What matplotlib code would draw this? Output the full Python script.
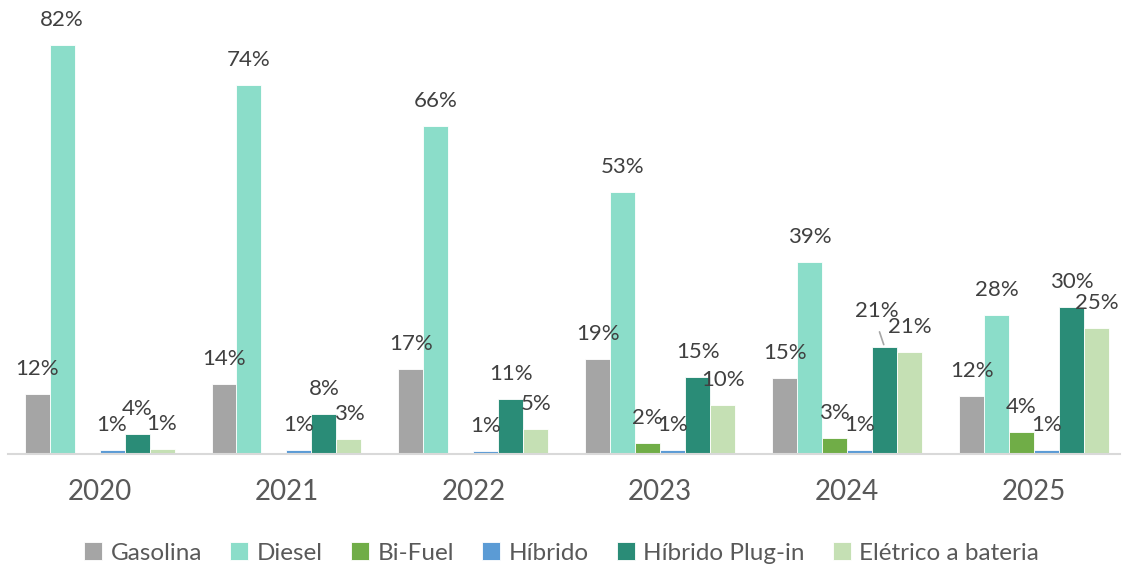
import matplotlib
matplotlib.use("Agg")
import matplotlib.pyplot as plt
import numpy as np

years = ["2020", "2021", "2022", "2023", "2024", "2025"]
series = ["Gasolina", "Diesel", "Bi-Fuel", "Híbrido", "Híbrido Plug-in", "Elétrico a bateria"]
gasolina = [12.0, 14.0, 17.0, 19.0, 15.2, 11.6]
diesel = [82.0, 73.9, 65.7, 52.5, 38.5, 27.8]
bifuel = [0.0, 0.0, 0.3, 2.2, 3.2, 4.4]
hibrido = [0.8, 0.8, 0.6, 0.8, 0.8, 0.8]
plugin = [4.0, 8.0, 11.0, 15.4, 21.4, 29.5]
eletrico = [1.0, 3.0, 5.0, 9.8, 20.4, 25.2]
labels = [
    ["12%", "14%", "17%", "19%", "15%", "12%"],
    ["82%", "74%", "66%", "53%", "39%", "28%"],
    ["", "", "", "2%", "3%", "4%"],
    ["1%", "1%", "1%", "1%", "1%", "1%"],
    ["4%", "8%", "11%", "15%", "21%", "30%"],
    ["1%", "3%", "5%", "10%", "21%", "25%"],
]
colors = ["#A5A5A5", "#8BDDC9", "#70AD47", "#5B9BD5", "#2A8C77", "#C5E0B4"]

data = [gasolina, diesel, bifuel, hibrido, plugin, eletrico]

plt.rcParams['font.family'] = ['Lato', 'DejaVu Sans']
fig = plt.figure(figsize=(11.23, 5.70), dpi=100)
ax = fig.add_axes([8/1123, (570-454)/570, 1112/1123, 449/570])

x = np.arange(len(years))
w = 25/187
for i, (vals, name, c) in enumerate(zip(data, series, colors)):
    pos = x + (i - 2.5) * w
    ax.bar(pos, vals, w, color=c, edgecolor="white", linewidth=0.6, label=name, zorder=2)
    for j, (p, v) in enumerate(zip(pos, vals)):
        lab = labels[i][j]
        if not lab:
            continue
        if i == 4 and j == 4:
            ax.annotate(lab, xy=(p, v), xytext=(-8, 36), textcoords="offset pixels",
                        ha="center", va="center", fontsize=16, color="#404040")
            ax.annotate("", xy=(p, v), xytext=(-6, 18), textcoords="offset pixels",
                        arrowprops=dict(arrowstyle="-", color="#A6A6A6", lw=1.2))
        else:
            ax.annotate(lab, xy=(p, v), xytext=(0, 25), textcoords="offset pixels",
                        ha="center", va="center", fontsize=16, color="#404040")

ax.set_xlim(-0.49, 5.46)
ax.set_ylim(0, 90)
ax.set_xticks(x)
ax.set_xticklabels(years, fontsize=20, color="#595959")
ax.tick_params(axis="x", length=0, pad=18)
ax.set_yticks([])
for s in ["top", "right", "left"]:
    ax.spines[s].set_visible(False)
ax.spines["bottom"].set_color("#D9D9D9")
ax.spines["bottom"].set_linewidth(1.5)

leg = fig.legend(loc="center", bbox_to_anchor=(0.5, 1 - 553/570), ncol=6, frameon=False,
                 fontsize=17.5, handlelength=0.75, handleheight=0.75, handletextpad=0.35,
                 columnspacing=1.15)
for t in leg.get_texts():
    t.set_color("#595959")

fig.savefig("out.png", dpi=100)
